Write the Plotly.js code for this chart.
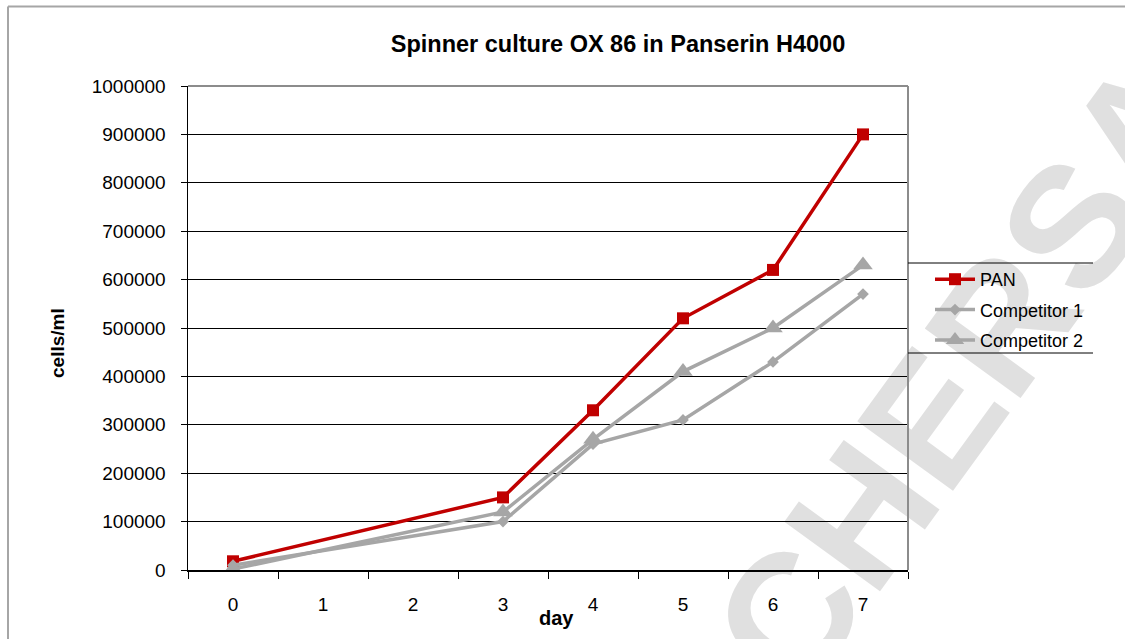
<!DOCTYPE html>
<html>
<head>
<meta charset="utf-8">
<script src="https://cdn.plot.ly/plotly-3.0.1.min.js"></script>
<style>
  html, body { margin: 0; padding: 0; background: #ffffff; }
  #wrap { position: relative; width: 1125px; height: 639px; overflow: hidden; }
  #back, #chart { position: absolute; left: 0; top: 0; width: 1125px; height: 639px; }
</style>
</head>
<body>
<div id="wrap">
  <div id="back"></div>
  <div id="chart"></div>
</div>
<script>
// ---- data ----
const dayCategories = ['0', '1', '2', '3', '4', '5', '6', '7'];
const days = ['0', '3', '4', '5', '6', '7'];
const pan = [18000, 150000, 330000, 520000, 620000, 900000];
const competitor1 = [10000, 100000, 260000, 310000, 430000, 570000];
const competitor2 = [2000, 120000, 270000, 410000, 500000, 630000];
const seriesNames = ['PAN', 'Competitor 1', 'Competitor 2'];
const yTickValues = [0, 100000, 200000, 300000, 400000, 500000, 600000, 700000, 800000, 900000, 1000000];
const titleText = 'Spinner culture OX 86 in Panserin H4000';
const yTitleText = 'cells/ml';
const xTitleText = 'day';
const watermarkText = 'CHERSA';

const W = 1125, H = 639;
const ML = 188, MR = 217, MT = 86, MB = 69;
const PW = W - ML - MR, PH = H - MT - MB;
// helpers to convert pixel positions to paper coordinates (for decorations only)
const px = x => (x - ML) / PW;
const py = y => (H - MB - y) / PH;

const FONT = 'Arial, "Liberation Sans", sans-serif';

// ---- background watermark (behind everything) ----
Plotly.newPlot('back', [], {
  width: W, height: H,
  margin: {l: 0, r: 0, t: 0, b: 0},
  paper_bgcolor: '#ffffff', plot_bgcolor: '#ffffff',
  xaxis: {visible: false}, yaxis: {visible: false},
  annotations: [{
    text: '<b>' + watermarkText + '</b>', xref: 'paper', yref: 'paper',
    x: 965 / W, y: 1 - 372 / H, showarrow: false,
    xanchor: 'center', yanchor: 'middle',
    textangle: -54,
    font: {family: FONT, size: 172, color: '#e0e0e0'}
  }]
}, {staticPlot: true, displayModeBar: false});

// ---- main chart ----
const traces = [
  {
    x: days, y: pan, name: seriesNames[0], type: 'scatter', mode: 'lines+markers',
    legendgroup: 'g1',
    line: {color: '#c00000', width: 3.5},
    marker: {symbol: 'square', size: 12, color: '#c00000'}
  },
  {
    x: days, y: competitor1, name: seriesNames[1], type: 'scatter', mode: 'lines+markers',
    legendgroup: 'g2',
    line: {color: '#a6a6a6', width: 3.5},
    marker: {symbol: 'diamond', size: 9, color: '#a6a6a6'}
  },
  {
    x: days, y: competitor2, name: seriesNames[2], type: 'scatter', mode: 'lines+markers',
    legendgroup: 'g3',
    line: {color: '#a6a6a6', width: 3.5},
    marker: {symbol: 'triangle-up', size: 17, color: '#a6a6a6'}
  }
];

const layout = {
  width: W, height: H,
  margin: {l: ML, r: MR, t: MT, b: MB},
  paper_bgcolor: 'rgba(0,0,0,0)',
  plot_bgcolor: 'rgba(0,0,0,0)',
  font: {family: FONT, color: '#000000', size: 19},
  showlegend: true,
  title: {
    text: '<b>' + titleText + '</b>',
    x: 618 / W, xanchor: 'center', xref: 'container',
    y: 1 - 44 / H, yanchor: 'middle', yref: 'container',
    font: {family: FONT, size: 23.5, color: '#000000'}
  },
  xaxis: {
    type: 'category',
    categoryorder: 'array',
    categoryarray: dayCategories,
    tickvals: dayCategories,
    ticktext: dayCategories,
    range: [-0.5, 7.5],
    tickson: 'boundaries',
    ticks: 'outside', ticklen: 7, tickwidth: 1, tickcolor: '#000000',
    showline: true, linecolor: '#000000', linewidth: 1.5,
    showgrid: false, zeroline: false,
    ticklabelstandoff: 17,
    tickfont: {family: FONT, size: 19, color: '#000000'}
  },
  yaxis: {
    range: [0, 1000000],
    tickvals: yTickValues,
    ticktext: yTickValues.map(v => String(v)),
    ticks: 'outside', ticklen: 6, tickwidth: 1, tickcolor: '#000000',
    showline: true, linecolor: '#000000', linewidth: 1.5,
    showgrid: true, gridcolor: '#000000', gridwidth: 1,
    zeroline: false,
    ticklabelstandoff: 11,
    tickfont: {family: FONT, size: 19, color: '#000000'}
  },
  legend: {
    x: px(930), y: py(261), xanchor: 'left', yanchor: 'top',
    bgcolor: 'rgba(0,0,0,0)', borderwidth: 0,
    font: {family: FONT, size: 18, color: '#000000'},
    traceorder: 'grouped',
    tracegroupgap: 4,
    itemwidth: 40
  },
  annotations: [
    {
      text: '<b>' + yTitleText + '</b>', xref: 'paper', yref: 'paper',
      x: px(57), y: py(343), showarrow: false, textangle: -90,
      xanchor: 'center', yanchor: 'middle',
      font: {family: FONT, size: 19, color: '#000000'}
    },
    {
      text: '<b>' + xTitleText + '</b>', xref: 'paper', yref: 'paper',
      x: px(556), y: py(618), showarrow: false,
      xanchor: 'center', yanchor: 'middle',
      font: {family: FONT, size: 20, color: '#000000'}
    }
  ],
  shapes: [
    // plot area top and right borders (gray)
    {type: 'line', xref: 'paper', yref: 'paper', x0: 0, x1: 1, y0: 1, y1: 1,
     line: {color: '#8c8c8c', width: 2}, layer: 'above'},
    {type: 'line', xref: 'paper', yref: 'paper', x0: 1, x1: 1, y0: 0, y1: 1,
     line: {color: '#8c8c8c', width: 2}, layer: 'above'},
    // legend box top / bottom lines
    {type: 'line', xref: 'paper', yref: 'paper', x0: 1, x1: px(1093), y0: py(263), y1: py(263),
     line: {color: '#000000', width: 1}},
    {type: 'line', xref: 'paper', yref: 'paper', x0: 1, x1: px(1093), y0: py(353), y1: py(353),
     line: {color: '#000000', width: 1}},
    // outer frame (top and left)
    {type: 'line', xref: 'paper', yref: 'paper', x0: px(8), x1: px(1125), y0: py(6.5), y1: py(6.5),
     line: {color: '#a6a6a6', width: 2}},
    {type: 'line', xref: 'paper', yref: 'paper', x0: px(8), x1: px(8), y0: py(6.5), y1: py(639),
     line: {color: '#a6a6a6', width: 2}}
  ]
};

Plotly.newPlot('chart', traces, layout, {staticPlot: true, displayModeBar: false});
</script>
</body>
</html>
